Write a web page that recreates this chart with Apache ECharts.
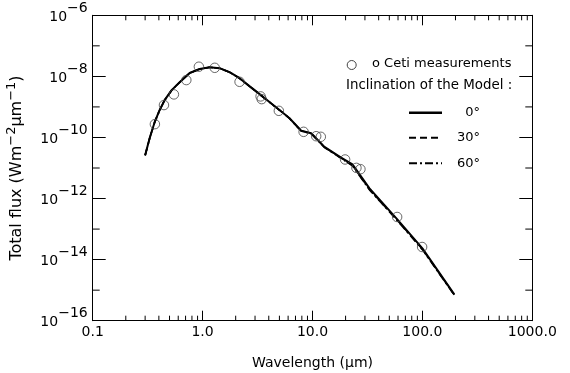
<!DOCTYPE html>
<html><head><meta charset="utf-8">
<script src="https://cdn.jsdelivr.net/npm/echarts@6/dist/echarts.min.js"></script>
<style>html,body{margin:0;padding:0;background:#fff}#c{width:570px;height:373px}</style>
</head><body><div id="c"></div>
<script>
// ---- axis ranges ----
const xMin = 0.1, xMax = 1000;
const yMin = 1e-16, yMax = 1e-6;
const xMinorTicks = [0.2,0.3,0.4,0.5,0.6,0.7,0.8,0.9, 2,3,4,5,6,7,8,9, 20,30,40,50,60,70,80,90, 200,300,400,500,600,700,800,900];
const yMinorTicks = [1e-15,1e-13,1e-11,1e-9,1e-7];

// ---- measurements (o Ceti) ----
const measWave = [0.368,0.445,0.548,0.711,0.925,1.29,2.17,3.37,3.45,4.94,8.3,10.8,11.9,19.8,25.1,27.3,58.9,99.4];
const measFlux = [2.73e-10,1.15e-9,2.57e-9,7.57e-9,2.07e-8,1.91e-8,6.65e-9,2.21e-9,1.80e-9,7.45e-10,1.53e-10,1.10e-10,1.05e-10,1.90e-11,1.01e-11,9.14e-12,2.49e-13,2.59e-14];

// ---- model curves ----
const modelWave = [0.3,0.33,0.366,0.407,0.451,0.523,0.618,0.762,0.939,1.158,1.428,1.759,2.17,2.67,3.30,4.06,5.01,6.18,7.89,9.73,12.85,18.2,23.1,33.0,58.0,100,195];
const model0  = [2.63e-11,9.55e-11,3.16e-10,7.94e-10,1.66e-9,3.55e-9,6.46e-9,1.29e-8,1.74e-8,2.00e-8,1.86e-8,1.38e-8,8.71e-9,4.79e-9,2.63e-9,1.45e-9,7.94e-10,4.27e-10,1.66e-10,1.38e-10,4.90e-11,2.19e-11,1.32e-11,2.14e-12,2.24e-13,2.34e-14,7.24e-16];
const model30 = [2.60e-11,9.45e-11,3.13e-10,7.90e-10,1.65e-9,3.53e-9,6.42e-9,1.28e-8,1.73e-8,1.99e-8,1.85e-8,1.37e-8,8.65e-9,4.75e-9,2.61e-9,1.44e-9,7.88e-10,4.23e-10,1.64e-10,1.35e-10,4.80e-11,2.12e-11,1.22e-11,1.98e-12,2.10e-13,2.20e-14,7.00e-16];
const model60 = [2.58e-11,9.40e-11,3.12e-10,7.88e-10,1.64e-9,3.52e-9,6.40e-9,1.28e-8,1.72e-8,1.98e-8,1.84e-8,1.37e-8,8.62e-9,4.73e-9,2.60e-9,1.43e-9,7.85e-10,4.20e-10,1.62e-10,1.33e-10,4.70e-11,2.08e-11,1.18e-11,1.92e-12,2.05e-13,2.12e-14,6.90e-16];

// ---- texts ----
const xTitle = 'Wavelength (μm)';
const legendMeas = 'o Ceti measurements';
const legendHead = 'Inclination of the Model :';
const inclLabels = ['0°','30°','60°'];

const FONT = 'DejaVu Sans';
const chart = echarts.init(document.getElementById('c'), null, {renderer:'canvas'});

const pair = (xs, ys) => xs.map((x,i) => [x, ys[i]]);
const lineBase = {type:'line', showSymbol:false, symbol:'none', smooth:false, silent:true, animation:false};

function xMinorRender(params, api){
  const v = api.value(0);
  const b = api.coord([v, yMin]);
  const t = api.coord([v, yMax]);
  const st = {stroke:'#000', lineWidth:1};
  return {type:'group', children:[
    {type:'line', shape:{x1:b[0],y1:b[1],x2:b[0],y2:b[1]-5}, style:st},
    {type:'line', shape:{x1:t[0],y1:t[1],x2:t[0],y2:t[1]+5}, style:st}
  ]};
}
function yMinorRender(params, api){
  const v = api.value(1);
  const l = api.coord([xMin, v]);
  const r = api.coord([xMax, v]);
  const st = {stroke:'#000', lineWidth:1};
  return {type:'group', children:[
    {type:'line', shape:{x1:l[0],y1:l[1],x2:l[0]+7,y2:l[1]}, style:st},
    {type:'line', shape:{x1:r[0],y1:r[1],x2:r[0]-7,y2:r[1]}, style:st}
  ]};
}

const axisLineK = {show:true, lineStyle:{color:'#000', width:1}};
const yLabelFmt = v => {
  const e = Math.round(Math.log10(v));
  return '{b|10}{s|−' + Math.abs(e) + '}';
};
const yRich = {
  b:{fontFamily:FONT, fontSize:14, color:'#000', lineHeight:14, padding:[4,0,0,0]},
  s:{fontFamily:FONT, fontSize:14, color:'#000', lineHeight:14, padding:[0,0,14,0]}
};

const legendY = [112.7, 137.7, 163.3];
const legendDash = [null, [7,4], [8,3,2,3]];

const option = {
  animation:false,
  backgroundColor:'#fff',
  grid:{left:92.7, right:37.7, top:15.3, bottom:52.3, containLabel:false, outerBoundsMode:'none'},
  xAxis:[
    {type:'log', logBase:10, min:xMin, max:xMax, position:'bottom',
     axisLine:axisLineK, splitLine:{show:false},
     axisTick:{show:true, inside:true, length:10, lineStyle:{color:'#000'}},
     axisLabel:{fontFamily:FONT, fontSize:14, color:'#000', margin:5,
       formatter: v => Number(v).toFixed(1)},
     name:xTitle, nameLocation:'middle', nameGap:36,
     nameTextStyle:{fontFamily:FONT, fontSize:14, color:'#000'}},
    {type:'log', logBase:10, min:xMin, max:xMax, position:'top',
     axisLine:axisLineK, splitLine:{show:false},
     axisTick:{show:true, inside:true, length:10, lineStyle:{color:'#000'}},
     axisLabel:{show:false}}
  ],
  yAxis:[
    {type:'log', logBase:10, min:yMin, max:yMax, position:'left', interval:2,
     axisLine:axisLineK, splitLine:{show:false},
     axisTick:{show:true, inside:true, length:13, lineStyle:{color:'#000'}},
     axisLabel:{margin:5, formatter:yLabelFmt, rich:yRich},
     name:'{t|Total flux (Wm}{s|−2}{t|μm}{s|−1}{t|)}',
     nameLocation:'middle', nameGap:68, nameRotate:90,
     nameTextStyle:{rich:{
       t:{fontFamily:FONT, fontSize:16, color:'#000', lineHeight:16},
       s:{fontFamily:FONT, fontSize:13, color:'#000', lineHeight:13, padding:[0,0,11,0]}
     }}},
    {type:'log', logBase:10, min:yMin, max:yMax, position:'right', interval:2,
     axisLine:axisLineK, splitLine:{show:false},
     axisTick:{show:true, inside:true, length:13, lineStyle:{color:'#000'}},
     axisLabel:{show:false}}
  ],
  series:[
    Object.assign({}, lineBase, {name:'0°', data:pair(modelWave, model0), z:3,
      lineStyle:{color:'#000', width:2, type:'solid'}}),
    Object.assign({}, lineBase, {name:'30°', data:pair(modelWave, model30), z:4,
      lineStyle:{color:'#000', width:1.6, type:[7,4]}}),
    Object.assign({}, lineBase, {name:'60°', data:pair(modelWave, model60), z:4,
      lineStyle:{color:'#000', width:1.6, type:[8,3,2,3]}}),
    {type:'scatter', name:legendMeas, data:pair(measWave, measFlux), symbol:'circle', symbolSize:9.5, z:5,
     itemStyle:{color:'rgba(0,0,0,0)', borderColor:'#444', borderWidth:1}, silent:true},
    {type:'custom', data:xMinorTicks.map(v => [v, yMin]), renderItem:xMinorRender, clip:false, silent:true, z:6},
    {type:'custom', data:yMinorTicks.map(v => [xMin, v]), renderItem:yMinorRender, clip:false, silent:true, z:6}
  ],
  graphic:[
    {type:'circle', shape:{cx:351.7, cy:65, r:4.5}, style:{fill:'none', stroke:'#444', lineWidth:1}},
    {type:'text', left:372, top:57, style:{text:legendMeas, font:'13px "DejaVu Sans"', fill:'#000'}},
    {type:'text', left:346, top:79, style:{text:legendHead, font:'13.4px "DejaVu Sans"', fill:'#000'}},
  ].concat(inclLabels.map((lab, i) => ({
    type:'line', shape:{x1:409, y1:legendY[i], x2:442, y2:legendY[i]},
    style:{stroke:'#000', lineWidth: i===0 ? 2.5 : 2, lineDash: legendDash[i]}
  }))).concat(inclLabels.map((lab, i) => ({
    type:'text', x:480, y:legendY[i],
    style:{text:lab, font:'13px "DejaVu Sans"', fill:'#000', align:'right', verticalAlign:'middle'}
  })))
};
chart.setOption(option);
</script></body></html>
